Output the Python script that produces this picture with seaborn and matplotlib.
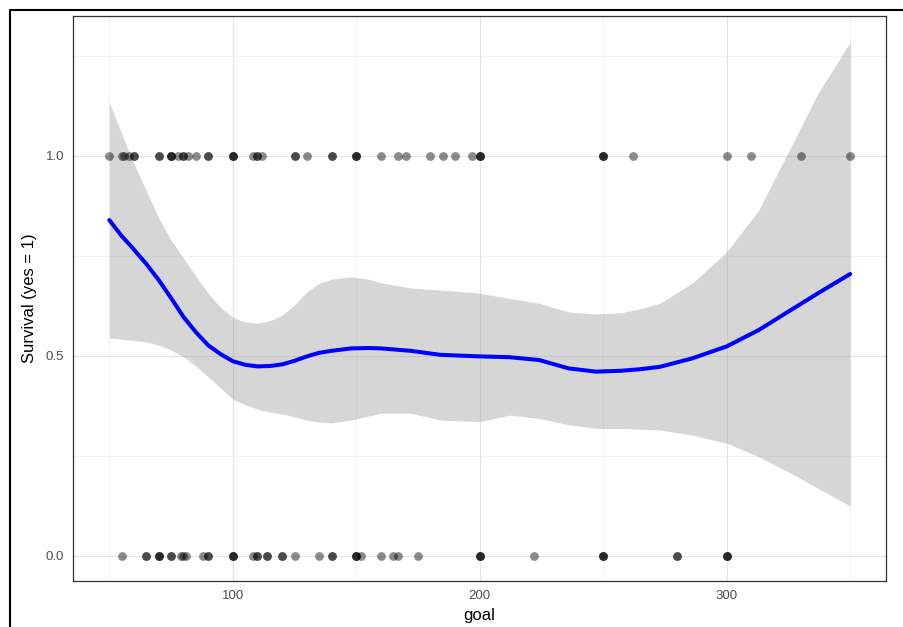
import numpy as np
import pandas as pd
import matplotlib
matplotlib.use("Agg")
import matplotlib.pyplot as plt
from matplotlib.lines import Line2D
from matplotlib.ticker import MultipleLocator
import seaborn as sns

# ---- data ----
goal_survived = [50, 55, 56, 58, 60, 60, 70, 70, 75, 75, 75, 78, 80, 80, 82, 85, 90, 90,
                 100, 100, 100, 108, 110, 110, 112, 125, 125, 130, 140, 140, 150, 150, 150,
                 160, 167, 170, 180, 185, 190, 197, 200, 200, 200, 250, 250, 250, 262,
                 300, 310, 330, 350]
goal_died = [55, 65, 65, 70, 70, 70, 75, 75, 79, 80, 81, 88, 90, 90, 100, 100, 100, 108,
             110, 110, 114, 114, 120, 120, 125, 135, 140, 140, 150, 150, 150, 152, 160,
             165, 167, 175, 200, 200, 200, 222, 250, 250, 250, 280, 280, 300, 300, 300]

smooth_x = [50, 55, 59, 65, 70, 75, 80, 85, 90, 95, 100, 105, 110, 115, 120, 125, 130,
            135, 140, 148, 155, 160, 172, 184, 200, 212, 224, 236, 247, 257, 265, 273,
            286, 300, 313, 326, 337, 350]
smooth_fit = [0.840, 0.800, 0.773, 0.730, 0.690, 0.645, 0.598, 0.560, 0.527, 0.505,
              0.487, 0.478, 0.474, 0.475, 0.479, 0.488, 0.499, 0.508, 0.513, 0.519,
              0.520, 0.519, 0.513, 0.503, 0.499, 0.497, 0.490, 0.469, 0.461, 0.463,
              0.467, 0.473, 0.494, 0.524, 0.565, 0.615, 0.657, 0.705]
smooth_lo = [0.545, 0.542, 0.540, 0.535, 0.527, 0.515, 0.498, 0.475, 0.448, 0.420,
             0.392, 0.378, 0.367, 0.360, 0.355, 0.348, 0.340, 0.335, 0.333, 0.340,
             0.350, 0.357, 0.357, 0.340, 0.336, 0.352, 0.344, 0.328, 0.319, 0.319,
             0.317, 0.315, 0.302, 0.282, 0.248, 0.207, 0.169, 0.125]
smooth_hi = [1.135, 1.055, 0.995, 0.912, 0.845, 0.790, 0.745, 0.700, 0.657, 0.622,
             0.597, 0.585, 0.582, 0.588, 0.602, 0.628, 0.660, 0.682, 0.692, 0.698,
             0.692, 0.683, 0.670, 0.665, 0.657, 0.644, 0.632, 0.610, 0.605, 0.608,
             0.618, 0.632, 0.682, 0.760, 0.865, 1.023, 1.157, 1.285]

x_ticks = [100, 200, 300]
y_ticks = [0.0, 0.5, 1.0]
y_tick_labels = ["0.0", "0.5", "1.0"]

points = pd.DataFrame({
    "goal": goal_survived + goal_died,
    "survival": [1] * len(goal_survived) + [0] * len(goal_died),
})
smooth = pd.DataFrame({"goal": smooth_x, "fit": smooth_fit, "lo": smooth_lo, "hi": smooth_hi})

# ---- plot ----
sns.set_style("white")
plt.rcParams["font.family"] = ["Liberation Sans", "DejaVu Sans"]

fig = plt.figure(figsize=(9.04, 6.27), dpi=100)
ax = fig.add_axes([73 / 904, 1 - 581 / 627, (886 - 73) / 904, (581 - 16) / 627])

ax.set_xlim(35.3, 364.5)
ax.set_ylim(-0.0625, 1.35)

ax.xaxis.set_major_locator(MultipleLocator(100))
ax.xaxis.set_minor_locator(MultipleLocator(50))
ax.yaxis.set_major_locator(MultipleLocator(0.5))
ax.yaxis.set_minor_locator(MultipleLocator(0.25))
ax.set_xticks(x_ticks)
ax.set_yticks(y_ticks)
ax.set_yticklabels(y_tick_labels)

ax.grid(which="major", color="#e3e3e3", linewidth=0.8)
ax.grid(which="minor", color="#f0f0f0", linewidth=0.6)
ax.set_axisbelow(True)

ax.fill_between(smooth["goal"], smooth["lo"], smooth["hi"], color="#999999",
                alpha=0.4, linewidth=0, zorder=2)
sns.lineplot(data=smooth, x="goal", y="fit", color="#0000ff", linewidth=2.9, ax=ax,
             zorder=3)
sns.scatterplot(data=points, x="goal", y="survival", color="black", alpha=0.45,
                s=40, linewidth=0, ax=ax, zorder=4)

for sp in ax.spines.values():
    sp.set_color("#333333")
    sp.set_linewidth(0.9)

ax.tick_params(axis="both", which="major", length=3.5, width=0.8, color="#333333",
               labelcolor="#4d4d4d", labelsize=9.5, pad=3)
ax.tick_params(axis="both", which="minor", length=0)
ax.set_xlabel("goal", fontsize=12, color="black", labelpad=4)
ax.set_ylabel("Survival (yes = 1)", fontsize=12, color="black", labelpad=6)

# outer screenshot frame (top and left edges)
fig.add_artist(Line2D([10 / 904, 1.0], [1 - 10 / 627, 1 - 10 / 627],
                      transform=fig.transFigure, color="black", linewidth=1.5))
fig.add_artist(Line2D([10 / 904, 10 / 904], [0.0, 1 - 10 / 627],
                      transform=fig.transFigure, color="black", linewidth=1.5))

fig.savefig("out.png", dpi=100)
